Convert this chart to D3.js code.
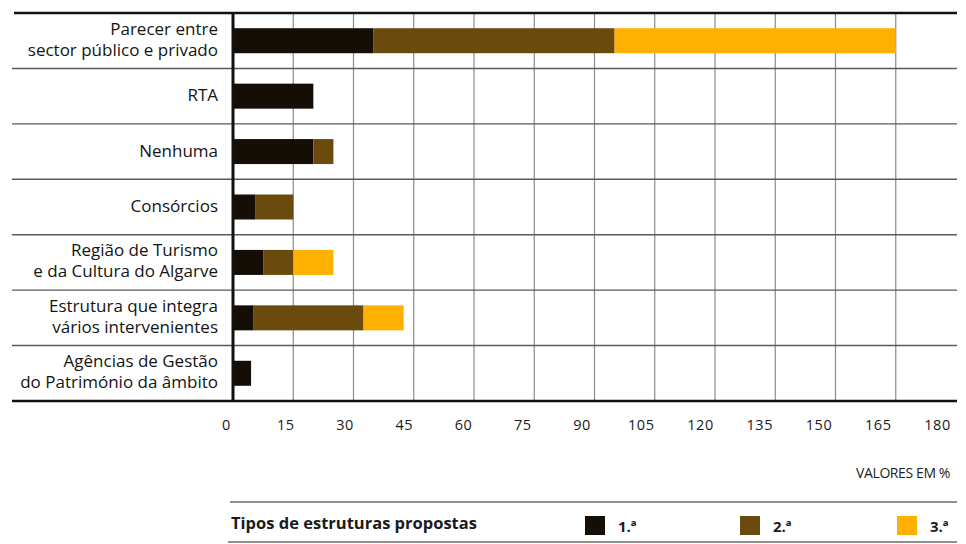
<!DOCTYPE html>
<html>
<head>
<meta charset="utf-8">
<script src="https://cdn.jsdelivr.net/npm/d3@7"></script>
<style>
  body { margin: 0; background: #fff; }
  svg { display: block; font-family: "Open Sans", "Noto Sans", sans-serif; }
</style>
</head>
<body>
<div id="chart"></div>
<script>
  // data
  var categories = [
    ["Parecer entre", "sector público e privado"],
    ["RTA"],
    ["Nenhuma"],
    ["Consórcios"],
    ["Região de Turismo", "e da Cultura do Algarve"],
    ["Estrutura que integra", "vários intervenientes"],
    ["Agências de Gestão", "do Património da âmbito"]
  ];
  var seriesNames = ["1.ª", "2.ª", "3.ª"];
  var first  = [35, 20, 20, 5.5, 7.5, 5, 4.5];
  var second = [60, 0, 5, 9.5, 7.5, 27.5, 0];
  var third  = [70, 0, 0, 0, 10, 10, 0];
  var tickValues = [0, 15, 30, 45, 60, 75, 90, 105, 120, 135, 150, 165, 180];
  var colors = ["#140e06", "#6b4a0e", "#ffb000"];

  var W = 966, H = 544;
  var svg = d3.select("#chart").append("svg")
    .attr("width", W)
    .attr("height", H);

  var keys = categories.map(function (d) { return d.join(" "); });
  var table = keys.map(function (k, i) {
    return { key: k, lines: categories[i], s0: first[i], s1: second[i], s2: third[i] };
  });

  var x = d3.scaleLinear().domain([0, 180]).range([233, 956]);
  // the printed tick labels sit a little left of their grid lines
  var xLabel = d3.scaleLinear().domain([0, 180]).range([226, 937]);
  var y = d3.scaleBand().domain(keys).range([13, 401]).padding(0);
  var barH = 25;

  // vertical grid lines
  svg.append("g")
    .selectAll("line")
    .data(tickValues.filter(function (t) { return t > 0 && t < 180; }))
    .enter()
    .append("line")
    .attr("x1", function (d) { return x(d); })
    .attr("x2", function (d) { return x(d); })
    .attr("y1", 13)
    .attr("y2", 401)
    .attr("stroke", "#8a8a8a")
    .attr("stroke-width", 1.2);

  // row separators
  svg.append("g")
    .selectAll("line")
    .data(keys.slice(1))
    .enter()
    .append("line")
    .attr("x1", 12)
    .attr("x2", 957)
    .attr("y1", function (d) { return y(d); })
    .attr("y2", function (d) { return y(d); })
    .attr("stroke", "#5a5a5a")
    .attr("stroke-width", 1.4);

  // stacked bars
  var stack = d3.stack().keys(["s0", "s1", "s2"]);
  var layers = stack(table);

  svg.append("g")
    .selectAll("g")
    .data(layers)
    .enter()
    .append("g")
    .attr("fill", function (d, i) { return colors[i]; })
    .selectAll("rect")
    .data(function (d) { return d; })
    .enter()
    .append("rect")
    .attr("x", function (d) { return x(d[0]); })
    .attr("width", function (d) { return x(d[1]) - x(d[0]); })
    .attr("y", function (d) { return y(d.data.key) + y.bandwidth() / 2 - barH / 2; })
    .attr("height", barH);

  // top and bottom frame lines
  svg.append("line")
    .attr("x1", 14).attr("x2", 957)
    .attr("y1", 13).attr("y2", 13)
    .attr("stroke", "#111").attr("stroke-width", 2.5);
  svg.append("line")
    .attr("x1", 12).attr("x2", 957)
    .attr("y1", 401).attr("y2", 401)
    .attr("stroke", "#111").attr("stroke-width", 2.5);

  // left axis line
  svg.append("line")
    .attr("x1", x(0)).attr("x2", x(0))
    .attr("y1", 12).attr("y2", 402)
    .attr("stroke", "#111").attr("stroke-width", 3);

  // category labels
  var labels = svg.append("g")
    .selectAll("text")
    .data(table)
    .enter()
    .append("text")
    .attr("text-anchor", "end")
    .attr("font-size", 17)
    .attr("fill", "#141414")
    .attr("y", function (d) { return y(d.key) + y.bandwidth() / 2; });

  labels.selectAll("tspan")
    .data(function (d) { return d.lines.map(function (l, i) { return { t: l, i: i, n: d.lines.length }; }); })
    .enter()
    .append("tspan")
    .attr("x", 218)
    .attr("dy", function (d) {
      if (d.n === 1) return "0.3em";
      return d.i === 0 ? "-0.35em" : "1.22em";
    })
    .text(function (d) { return d.t; });

  // x axis labels
  var xAxis = svg.append("g")
    .attr("transform", "translate(0,420)")
    .call(d3.axisBottom(xLabel).tickValues(tickValues).tickSize(0).tickPadding(0));
  xAxis.select(".domain").remove();
  xAxis.selectAll("text")
    .attr("font-family", "\"Open Sans\", sans-serif")
    .attr("font-size", 14.5)
    .attr("letter-spacing", "0.5px")
    .attr("fill", "#1a1a1a");

  svg.append("text")
    .attr("x", 950)
    .attr("y", 478)
    .attr("text-anchor", "end")
    .attr("font-size", 14)
    .attr("letter-spacing", "-0.4px")
    .attr("fill", "#222")
    .text("VALORES EM %");

  // legend
  svg.append("line")
    .attr("x1", 230).attr("x2", 957)
    .attr("y1", 502).attr("y2", 502)
    .attr("stroke", "#6a6a6a").attr("stroke-width", 1.5);
  svg.append("line")
    .attr("x1", 228).attr("x2", 957)
    .attr("y1", 542).attr("y2", 542)
    .attr("stroke", "#6a6a6a").attr("stroke-width", 1.5);

  svg.append("text")
    .attr("x", 231)
    .attr("y", 529)
    .attr("font-size", 16.5)
    .attr("font-weight", "bold")
    .attr("fill", "#1a1a1a")
    .text("Tipos de estruturas propostas");

  var legendX = [585, 740, 897];
  var leg = svg.append("g")
    .selectAll("g")
    .data(seriesNames)
    .enter()
    .append("g")
    .attr("transform", function (d, i) { return "translate(" + legendX[i] + ",516)"; });
  leg.append("rect")
    .attr("width", 20)
    .attr("height", 19)
    .attr("fill", function (d, i) { return colors[i]; });
  leg.append("text")
    .attr("x", 33)
    .attr("y", 16)
    .attr("font-size", 15)
    .attr("font-weight", "bold")
    .attr("fill", "#1a1a1a")
    .text(function (d) { return d; });
</script>
</body>
</html>
